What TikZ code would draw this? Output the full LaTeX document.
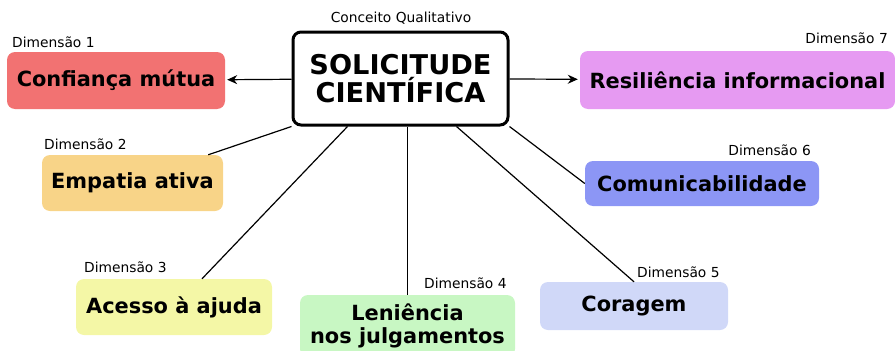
\documentclass[tikz,border=0pt]{standalone}
\usepackage{fontspec}
\setmainfont{DejaVu Sans}
\usetikzlibrary{arrows.meta}

\definecolor{dimred}{HTML}{F27272}
\definecolor{dimorange}{HTML}{F8D488}
\definecolor{dimyellow}{HTML}{F4F7A6}
\definecolor{dimgreen}{HTML}{C8F7C3}
\definecolor{dimlavender}{HTML}{D0D8F8}
\definecolor{dimblue}{HTML}{8C96F5}
\definecolor{dimpurple}{HTML}{E69AF2}

\tikzset{
  concept/.style={draw, line width=3pt, rounded corners=8pt, fill=white,
    minimum width=215pt, minimum height=93pt, inner sep=0pt, align=center,
    font=\fontsize{27.2}{28}\selectfont\bfseries},
  dimbox/.style={rounded corners=8pt, inner sep=0pt, align=center,
    font=\fontsize{20.9}{23}\selectfont\bfseries},
  dimlabel/.style={inner sep=0pt, font=\fontsize{13.8}{16}\selectfont},
  link/.style={line width=1.2pt},
}

\begin{document}
\begin{tikzpicture}[x=1pt, y=-1pt]
    \useasboundingbox (0, 0) rectangle (895, 351);

    % Central concept
    \path (400.5, 78.5) node [concept] (cc) {SOLICITUDE\\CIENTÍFICA};
    \path (401, 18) node [dimlabel] (cclabel) {Conceito Qualitativo};

    % Dimensions
    \path (116, 80.5) node [dimbox, fill=dimred, minimum width=218pt, minimum height=57pt]
          (d1) {Confiança mútua};
    \path (132.5, 183) node [dimbox, fill=dimorange, minimum width=181pt, minimum height=56pt]
          (d2) {Empatia ativa};
    \path (174, 307) node [dimbox, fill=dimyellow, minimum width=196pt, minimum height=56pt]
          (d3) {Acesso à ajuda};
    \path (407.5, 326) node [dimbox, fill=dimgreen, minimum width=215pt, minimum height=62pt]
          (d4) {Leniência\\nos julgamentos};
    \path (634, 306) node [dimbox, fill=dimlavender, minimum width=188pt, minimum height=48pt]
          (d5) {Coragem};
    \path (702, 183.5) node [dimbox, fill=dimblue, minimum width=234pt, minimum height=45pt]
          (d6) {Comunicabilidade};
    \path (737.5, 80) node [dimbox, fill=dimpurple, minimum width=315pt, minimum height=58pt]
          (d7) {Resiliência informacional};

    % Dimension labels
    \path (12, 42) node [dimlabel, anchor=west] (l1) {Dimensão 1};
    \path (44, 144) node [dimlabel, anchor=west] (l2) {Dimensão 2};
    \path (84, 267) node [dimlabel, anchor=west] (l3) {Dimensão 3};
    \path (424, 283) node [dimlabel, anchor=west] (l4) {Dimensão 4};
    \path (637, 272) node [dimlabel, anchor=west] (l5) {Dimensão 5};
    \path (811, 150) node [dimlabel, anchor=east] (l6) {Dimensão 6};
    \path (888, 38) node [dimlabel, anchor=east] (l7) {Dimensão 7};

    % Connections
    \draw [link, -{Stealth[length=10pt, width=9pt]}, shorten >=2pt] (cc) -- (d1);
    \draw [link, -{Stealth[length=10pt, width=9pt]}, shorten >=2pt] (cc) -- (d7);
    \draw [link] (cc.south west) -- ([xshift=-15pt]d2.north east);
    \draw [link] ([xshift=-53pt]cc.south) -- ([xshift=28pt]d3.north);
    \draw [link] (d4.north |- cc.south) -- (d4.north);
    \draw [link] ([xshift=56pt]cc.south) -- (d5.north);
    \draw [link] (cc.south east) -- (d6.west);
\end{tikzpicture}
\end{document}
